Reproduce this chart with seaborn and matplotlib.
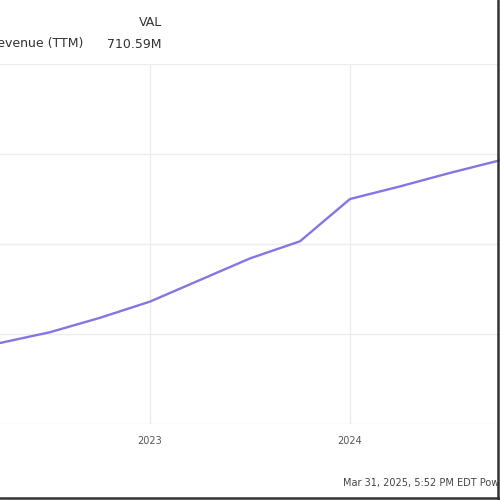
import pandas as pd
import matplotlib.pyplot as plt
import seaborn as sns
from matplotlib.lines import Line2D

# quarter ends as decimal years, TTM revenue in $M
quarters = [2022.25, 2022.5, 2022.75, 2023.0, 2023.25, 2023.5,
            2023.75, 2024.0, 2024.25, 2024.5, 2024.75, 2025.0]
revenue = [490, 502, 518, 536, 560, 584, 603, 650, 664, 679, 693, 710.59]
year_ticks = [2023, 2024]
year_labels = ["2023", "2024"]
grid_values = [400, 500, 600, 700, 800]

df = pd.DataFrame({"quarter": quarters, "revenue": revenue})

sns.set_style("white")
plt.rcParams['font.family'] = ['DejaVu Sans']

fig = plt.figure(figsize=(5, 5), dpi=100)
ax = fig.add_axes([0.0, 0.152, 1.0, 0.72])

sns.lineplot(data=df, x="quarter", y="revenue", ax=ax,
             color="#8874e2", lw=1.7)

ax.set_xlim(2022.25, 2024.75)
ax.set_ylim(400, 800)
ax.set_xticks(year_ticks)
ax.set_xticklabels(year_labels)
ax.set_yticks(grid_values)
ax.set_yticklabels([])
ax.tick_params(axis='x', length=0, pad=9, labelsize=7, labelcolor='#555555')
ax.tick_params(axis='y', length=0)
ax.grid(True, color='#ececec', lw=1.0)
ax.set_axisbelow(True)
ax.set_xlabel("")
ax.set_ylabel("")
for s in ax.spines.values():
    s.set_visible(False)

# header (legend-like labels), cropped at the left edge as in the source
fig.text(162 / 500, 1 - 23 / 500, "VAL", ha='right', va='center',
         fontsize=9, color='#333333')
fig.text(83 / 500, 1 - 44 / 500, "Revenue (TTM)", ha='right', va='center',
         fontsize=9, color='#333333')
fig.text(162 / 500, 1 - 44 / 500, "710.59M", ha='right', va='center',
         fontsize=9, color='#333333')

# footer, cropped at the right edge
fig.text(343 / 500, 1 - 483 / 500, "Mar 31, 2025, 5:52 PM EDT Powered by YCharts",
         ha='left', va='center', fontsize=7, color='#444444')

# dark frame at the crop edge
fig.add_artist(Line2D([0.996, 0.996], [0, 1], transform=fig.transFigure,
                      color='#333333', lw=1.8))
fig.add_artist(Line2D([0, 1], [0.005, 0.005], transform=fig.transFigure,
                      color='#333333', lw=1.8))

fig.savefig("out.png", dpi=100, facecolor='white')
